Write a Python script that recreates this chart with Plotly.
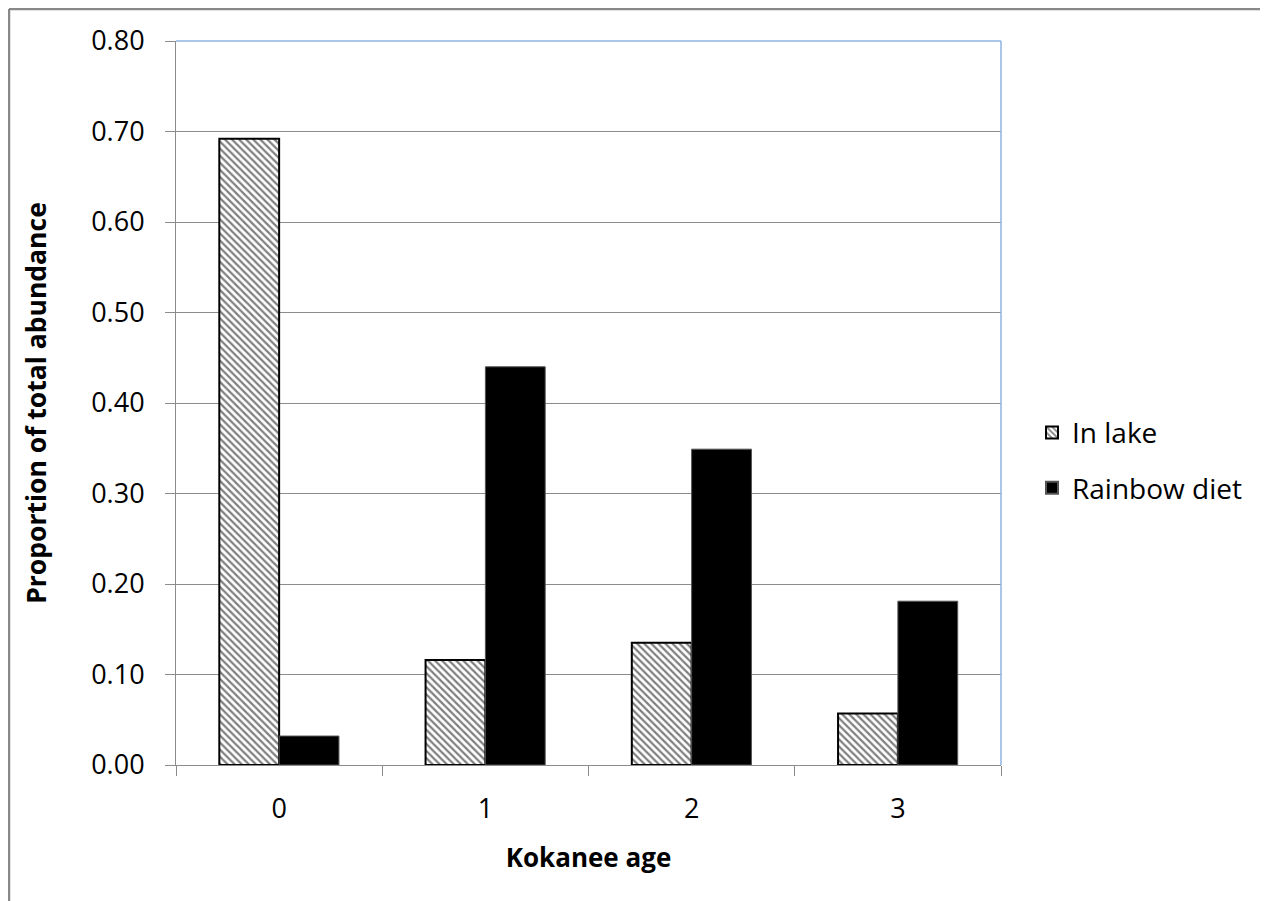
import plotly.graph_objects as go

ages = ["0", "1", "2", "3"]
in_lake = [0.692, 0.116, 0.135, 0.057]
rainbow_diet = [0.032, 0.440, 0.349, 0.181]
y_ticks = [0.0, 0.1, 0.2, 0.3, 0.4, 0.5, 0.6, 0.7, 0.8]
y_tick_text = [f"{v:.2f}" for v in y_ticks]

FONT = "Open Sans, Liberation Sans, sans-serif"

fig = go.Figure()
fig.add_trace(go.Bar(
    x=ages, y=in_lake, name="In lake", legendgroup="a",
    marker=dict(color="white", line=dict(color="black", width=2),
                pattern=dict(shape="\\", fgcolor="black", bgcolor="white", size=5, solidity=0.45)),
))
fig.add_trace(go.Bar(
    x=ages, y=rainbow_diet, name="Rainbow diet", legendgroup="b",
    marker=dict(color="black", line=dict(color="#555555", width=1)),
))

W, H = 1260, 893
L, R, T, B = 168, 267, 33, 136
pw, ph = W - L - R, H - T - B

fig.update_layout(
    width=W, height=H,
    margin=dict(l=L, r=R, t=T, b=B),
    paper_bgcolor="white", plot_bgcolor="white",
    barmode="group", bargap=0.42, bargroupgap=0,
    font=dict(family=FONT, size=27, color="black"),
    showlegend=True,
    legend=dict(x=1.0376, y=0.421, yanchor="middle", xanchor="left",
                font=dict(size=28), itemsizing="constant", tracegroupgap=16,
                traceorder="grouped", itemwidth=30),
    xaxis=dict(
        type="category", showline=True, linecolor="#8c8c8c", linewidth=1,
        ticks="outside", ticklen=10, tickcolor="#8c8c8c", tickson="boundaries",
        ticklabelstandoff=20, tickfont=dict(size=27),
        title=dict(text="<b>Kokanee age</b>", font=dict(size=26), standoff=23),
    ),
    yaxis=dict(
        range=[0, 0.8], tickvals=y_ticks, ticktext=y_tick_text,
        showline=True, linecolor="#8c8c8c", linewidth=1,
        ticks="outside", ticklen=10, tickcolor="#8c8c8c",
        showgrid=True, gridcolor="#8c8c8c", gridwidth=1,
        ticklabelstandoff=15, zeroline=False, tickfont=dict(size=27),
        title=dict(text="<b>Proportion of total abundance</b>", font=dict(size=26.5), standoff=36),
    ),
)

# blue plot-area border on top and right
fig.add_shape(type="line", xref="paper", yref="paper", x0=0, x1=1, y0=1, y1=1,
              line=dict(color="#8EB4E3", width=1.5))
fig.add_shape(type="line", xref="paper", yref="paper", x0=1, x1=1, y0=0, y1=1,
              line=dict(color="#8EB4E3", width=1.5))
# outer chart frame (top and left)
fx = (1 - L) / pw
fy = (H - B - 1) / ph
fig.add_shape(type="line", xref="paper", yref="paper", x0=fx, x1=(W + 10 - L) / pw, y0=fy, y1=fy,
              line=dict(color="#888888", width=2.5))
fig.add_shape(type="line", xref="paper", yref="paper", x0=fx, x1=fx, y0=fy, y1=-(B + 10) / ph,
              line=dict(color="#888888", width=2.5))

fig.write_html("out.html")
